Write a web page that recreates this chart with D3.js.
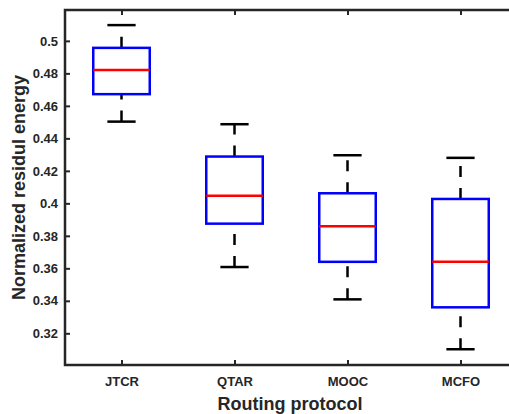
<!DOCTYPE html>
<html>
<head>
<meta charset="utf-8">
<script src="https://cdn.jsdelivr.net/npm/d3@7"></script>
<style>
  body { margin: 0; background: #fff; }
  svg { display: block; font-family: "Liberation Sans", Arial, sans-serif; }
</style>
</head>
<body>
<div id="chart"></div>
<script>
// box statistics
const protocols = ["JTCR", "QTAR", "MOOC", "MCFO"];
const lowerWhisker = [0.4503, 0.3608, 0.3409, 0.3102];
const q1 = [0.4672, 0.3875, 0.3640, 0.3360];
const median = [0.4821, 0.4046, 0.3859, 0.3641];
const q3 = [0.4957, 0.4288, 0.4062, 0.4027];
const upperWhisker = [0.5097, 0.4487, 0.4296, 0.4280];
const yTicks = [0.32, 0.34, 0.36, 0.38, 0.4, 0.42, 0.44, 0.46, 0.48, 0.5];

const width = 509, height = 414;
const plot = { left: 65, top: 10, right: 517, bottom: 365 };

const svg = d3.select("#chart").append("svg")
  .attr("width", width)
  .attr("height", height);

const x = d3.scaleLinear().domain([0.5, 4.5]).range([plot.left, plot.right]);
const y = d3.scaleLinear().domain([0.3005, 0.519]).range([plot.bottom, plot.top]);

const boxes = protocols.map((p, i) => ({
  name: p, pos: i + 1,
  lo: lowerWhisker[i], q1: q1[i], med: median[i], q3: q3[i], hi: upperWhisker[i]
}));

const boxHalf = 0.25, capHalf = 0.125;

const g = svg.append("g");

// whiskers, dashed, drawn from the lower value upward
g.selectAll("line.wlo").data(boxes).join("line")
  .attr("x1", d => x(d.pos)).attr("x2", d => x(d.pos))
  .attr("y1", d => y(d.lo)).attr("y2", d => y(d.q1))
  .attr("stroke", "#000").attr("stroke-width", 2.5)
  .attr("stroke-dasharray", "11,11");

g.selectAll("line.whi").data(boxes).join("line")
  .attr("x1", d => x(d.pos)).attr("x2", d => x(d.pos))
  .attr("y1", d => y(d.q3)).attr("y2", d => y(d.hi))
  .attr("stroke", "#000").attr("stroke-width", 2.5)
  .attr("stroke-dasharray", "11,11");

// caps
["lo", "hi"].forEach(k => {
  g.selectAll("line.cap" + k).data(boxes).join("line")
    .attr("x1", d => x(d.pos - capHalf)).attr("x2", d => x(d.pos + capHalf))
    .attr("y1", d => y(d[k])).attr("y2", d => y(d[k]))
    .attr("stroke", "#000").attr("stroke-width", 2.5);
});

// boxes
g.selectAll("rect.box").data(boxes).join("rect")
  .attr("x", d => x(d.pos - boxHalf))
  .attr("width", d => x(d.pos + boxHalf) - x(d.pos - boxHalf))
  .attr("y", d => y(d.q3))
  .attr("height", d => y(d.q1) - y(d.q3))
  .attr("fill", "none")
  .attr("stroke", "#0000ff").attr("stroke-width", 2.5);

// medians
g.selectAll("line.med").data(boxes).join("line")
  .attr("x1", d => x(d.pos - boxHalf)).attr("x2", d => x(d.pos + boxHalf))
  .attr("y1", d => y(d.med)).attr("y2", d => y(d.med))
  .attr("stroke", "#ff0000").attr("stroke-width", 2.5);

// axes
const axisColor = "#262626";
const yAxis = svg.append("g")
  .attr("transform", `translate(${plot.left},0)`)
  .call(d3.axisLeft(y).tickValues(yTicks).tickSize(-5).tickPadding(7).tickFormat(d3.format("")));
const xAxis = svg.append("g")
  .attr("transform", `translate(0,${plot.bottom})`)
  .call(d3.axisBottom(x).tickValues([1, 2, 3, 4]).tickSize(-5).tickPadding(12)
    .tickFormat(d => protocols[d - 1]));
const xTop = svg.append("g")
  .attr("transform", `translate(0,${plot.top})`)
  .call(d3.axisTop(x).tickValues([1, 2, 3, 4]).tickSize(-5).tickFormat(""));

[yAxis, xAxis, xTop].forEach(a => {
  a.select(".domain").remove();
  a.selectAll(".tick line").attr("stroke", axisColor).attr("stroke-width", 2);
  a.selectAll(".tick text")
    .attr("fill", axisColor)
    .style("font-weight", "bold")
    .style("font-size", "13px");
});

// frame (left, top, bottom; right side falls outside the picture)
svg.append("path")
  .attr("d", `M${plot.right},${plot.top}H${plot.left}V${plot.bottom}H${plot.right}`)
  .attr("fill", "none")
  .attr("stroke", axisColor)
  .attr("stroke-width", 2.5);

// axis titles
svg.append("text")
  .attr("transform", `translate(25,${(plot.top + plot.bottom) / 2}) rotate(-90)`)
  .attr("text-anchor", "middle")
  .attr("fill", axisColor)
  .style("font-size", "18px").style("font-weight", "bold")
  .text("Normalized residul energy");

svg.append("text")
  .attr("x", 290).attr("y", 410)
  .attr("text-anchor", "middle")
  .attr("fill", axisColor)
  .style("font-size", "18px").style("font-weight", "bold")
  .text("Routing protocol");
</script>
</body>
</html>
